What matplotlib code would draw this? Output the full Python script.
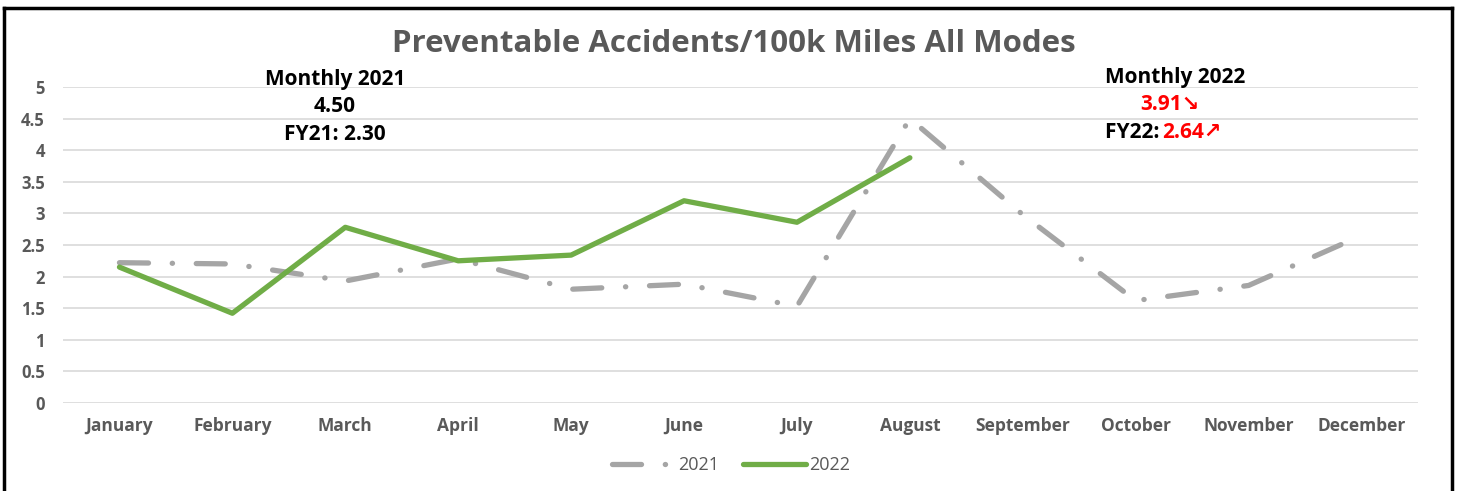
import matplotlib.pyplot as plt
from matplotlib.lines import Line2D
import numpy as np

plt.rcParams['font.family'] = ['Open Sans', 'DejaVu Sans']

months = ['January', 'February', 'March', 'April', 'May', 'June', 'July',
          'August', 'September', 'October', 'November', 'December']
vals_2021 = [2.22, 2.20, 1.93, 2.28, 1.80, 1.88, 1.53, 4.50, 2.98, 1.62, 1.86, 2.65]
vals_2022 = [2.15, 1.42, 2.78, 2.25, 2.34, 3.20, 2.86, 3.88]
yticks = [0, 0.5, 1, 1.5, 2, 2.5, 3, 3.5, 4, 4.5, 5]
ytick_labels = ['0', '0.5', '1', '1.5', '2', '2.5', '3', '3.5', '4', '4.5', '5']

W, H = 1461, 491
fig = plt.figure(figsize=(W / 100, H / 100), dpi=100)
ax = fig.add_axes([63 / W, 1 - 403 / H, (1418 - 63) / W, (403 - 87) / H])

gray = '#595959'
dash = (0, (5.5, 4.5, 0.05, 4.5))
x = np.arange(len(months))
ax.plot(x, vals_2021, color='#A5A5A5', lw=3.8, linestyle=dash,
        dash_capstyle='round', solid_capstyle='round', label='2021', zorder=3)
ax.plot(x[:len(vals_2022)], vals_2022, color='#70AD47', lw=3.8,
        solid_capstyle='round', solid_joinstyle='round', label='2022', zorder=4)

ax.set_xlim(-0.5, len(months) - 0.5)
ax.set_ylim(0, 5)
ax.set_yticks(yticks)
ax.set_yticklabels(ytick_labels)
ax.set_xticks(x)
ax.set_xticklabels(months)
ax.tick_params(axis='y', length=0, pad=13, labelsize=12, labelcolor=gray)
ax.tick_params(axis='x', length=0, pad=10, labelsize=12.5, labelcolor=gray)
for lab in ax.get_xticklabels() + ax.get_yticklabels():
    lab.set_fontweight('bold')
ax.grid(axis='y', color='#D9D9D9', lw=1.2)
ax.set_axisbelow(True)
for s in ax.spines.values():
    s.set_visible(False)

# Title
fig.text(734 / W, 1 - 44 / H, 'Preventable Accidents/100k Miles All Modes',
         ha='center', va='center', fontsize=22.5, fontweight='bold', color=gray)

# Annotations
fs = 15
fig.text(335 / W, 1 - 79 / H, 'Monthly 2021', ha='center', va='center',
         fontsize=fs, fontweight='bold', color='black')
fig.text(335 / W, 1 - 107 / H, '4.50', ha='center', va='center',
         fontsize=fs, fontweight='bold', color='black')
fig.text(335 / W, 1 - 135 / H, 'FY21: 2.30', ha='center', va='center',
         fontsize=fs, fontweight='bold', color='black')

fig.text(1175 / W, 1 - 78 / H, 'Monthly 2022', ha='center', va='center',
         fontsize=fs, fontweight='bold', color='black')
fig.text(1170 / W, 1 - 105 / H, '3.91\u2198', ha='center', va='center',
         fontsize=fs, fontweight='bold', color='red')
fig.text(1165 / W, 1 - 132 / H, 'FY22: ', ha='right', va='center',
         fontsize=fs, fontweight='bold', color='black')
fig.text(1162 / W, 1 - 132 / H, '2.64\u2197', ha='left', va='center',
         fontsize=fs, fontweight='bold', color='red')

# Legend
handles = [Line2D([], [], color='#A5A5A5', lw=3.8, linestyle=dash,
                  dash_capstyle='round'),
           Line2D([], [], color='#70AD47', lw=3.8, solid_capstyle='round')]
fig.legend(handles, ['2021', '2022'], loc='center', bbox_to_anchor=(731 / W, 1 - 465 / H),
           ncol=2, frameon=False, fontsize=13, labelcolor=gray, handlelength=3.5,
           handletextpad=0.15, columnspacing=1.3)

# Outer frame
for xs, ys in [([4 / W, 4 / W], [0, 1 - 8 / H]),
               ([4 / W, 1452 / W], [1 - 8 / H, 1 - 8 / H]),
               ([1452 / W, 1452 / W], [1 - 8 / H, 0])]:
    fig.add_artist(Line2D(xs, ys, color='black', lw=2.5, transform=fig.transFigure))

fig.savefig('out.png', dpi=100, facecolor='white')
